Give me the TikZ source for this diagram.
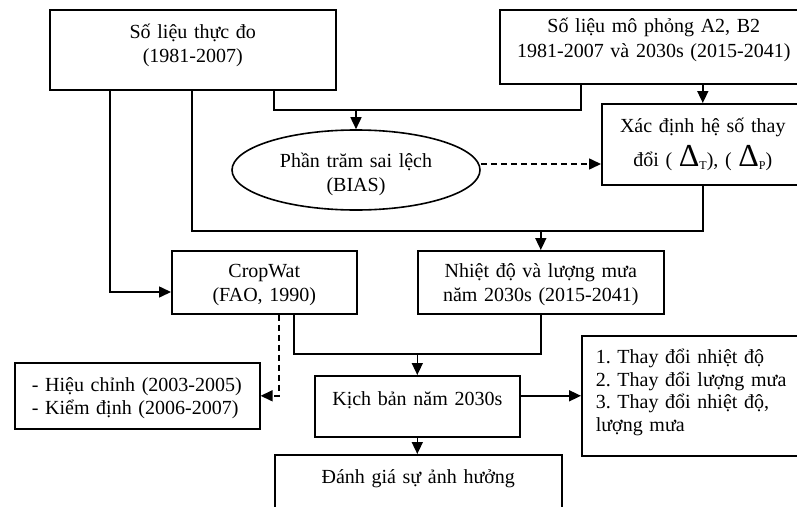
\documentclass[tikz,border=0pt]{standalone}
\usepackage{fontspec}
\setmainfont{Liberation Serif}
\usetikzlibrary{arrows.meta,shapes.geometric}
\frenchspacing
\newcommand{\bigdelta}[1]{{\fontsize{32}{32}\selectfont Δ}\raisebox{-3pt}{\fontsize{12}{12}\selectfont #1}}
\begin{document}
\begin{tikzpicture}[x=1pt,y=-1pt,
  every node/.style={inner sep=0pt},
  box/.style={draw,line width=1.6pt,anchor=north west,align=center,font=\frenchspacing\fontsize{20}{24}\selectfont},
  lbox/.style={draw,line width=1.6pt,anchor=north west,align=left,font=\frenchspacing\fontsize{20}{23}\selectfont},
  ell/.style={draw,line width=1.6pt,ellipse,align=center,font=\frenchspacing\fontsize{20}{24}\selectfont},
  conn/.style={line width=1.6pt},
  arr/.style={conn,-{Triangle[length=12pt,width=11pt]}},
  dsh/.style={dash pattern=on 6pt off 4pt}
]
\useasboundingbox (0,0) rectangle (797,506);
\fill[white] (0,0) rectangle (797,506);
\clip (0,0) rectangle (797,506);

\node[box,text width=286pt,text height=29pt,text depth=51pt] (obs) at (49,9)
  {Số liệu thực đo\\(1981-2007)};
\node[box,text width=308pt,text height=23pt,text depth=51pt,font=\frenchspacing\fontsize{20}{25}\selectfont] (sim) at (499,9)
  {Số liệu mô phỏng A2, B2\\1981-2007 và 2030s (2015-2041)};
\node[box,text width=202pt,text height=29pt,text depth=52pt,font=\frenchspacing\fontsize{20}{34}\selectfont] (coef) at (601,103)
  {Xác định hệ số thay\\đổi ( \bigdelta{T}), ( \bigdelta{P})};
\node[ell,minimum width=248pt,minimum height=80pt,text width=172pt,text height=22pt,text depth=28pt] (ell) at (356,170)
  {Phần trăm sai lệch\\(BIAS)};
\node[box,text width=185pt,text height=27pt,text depth=36pt,font=\frenchspacing\fontsize{20}{23.5}\selectfont] (cw) at (171,250)
  {CropWat\\(FAO, 1990)};
\node[box,text width=246pt,text height=27pt,text depth=36pt,font=\frenchspacing\fontsize{20}{23.5}\selectfont] (nh) at (417,250)
  {Nhiệt độ và lượng mưa\\năm 2030s (2015-2041)};
\node[lbox,inner xsep=17pt,text width=211pt,text height=29pt,text depth=37pt] (hc) at (14,362)
  {- Hiệu chỉnh (2003-2005)\\- Kiểm định (2006-2007)};
\node[box,text width=205pt,text height=30pt,text depth=31pt] (kb) at (314,375)
  {Kịch bản năm 2030s};
\node[lbox,inner xsep=14pt,text width=220pt,text height=28pt,text depth=92pt,font=\frenchspacing\fontsize{20}{22.5}\selectfont] (list) at (581,335)
  {1. Thay đổi nhiệt độ\\2. Thay đổi lượng mưa\\3. Thay đổi nhiệt độ,\\lượng mưa};
\node[box,text width=287pt,text height=29pt,text depth=41pt] (dg) at (274,454)
  {Đánh giá sự ảnh hưởng};

% connectors
\draw[arr] (obs.south -| 110,0) |- (cw.west |- 0,292);
\draw[conn] (obs.south -| 192,0) |- (coef.south |- 0,231) -- (coef.south);
\draw[arr] (nh.north |- 0,231) -- (nh.north);
\draw[conn] (obs.south -| 274,0) |- (581,110) -- (sim.south -| 581,0);
\draw[arr] (ell.north |- 0,110) -- (ell.north);
\draw[arr] (sim.south -| coef.north) -- (coef.north);
\draw[arr,dsh] (ell.east |- 0,164) -- (coef.west |- 0,164);
\draw[arr,dsh] (cw.south -| 279,0) |- (hc.east);
\draw[conn] (cw.south -| 294,0) |- (nh.south |- 0,354) -- (nh.south);
\draw[arr] (kb.north |- 0,354) -- (kb.north);
\draw[arr] (kb.east |- list.west) -- (list.west);
\draw[arr] (kb.south) -- (kb.south |- dg.north);
\end{tikzpicture}
\end{document}
